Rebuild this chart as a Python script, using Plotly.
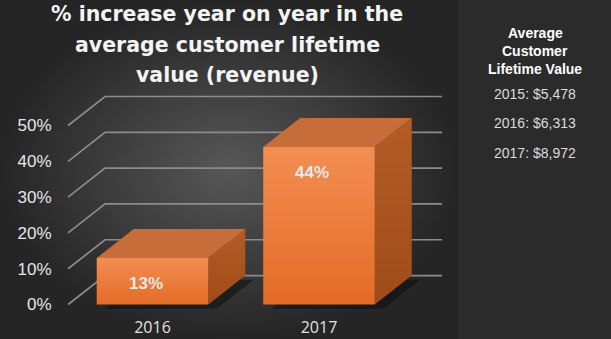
import plotly.graph_objects as go

# ---- data ----
years = ["2016", "2017"]
pct_increase = [13, 44]
y_ticks = [0, 10, 20, 30, 40, 50]
y_tick_labels = ["0%", "10%", "20%", "30%", "40%", "50%"]
clv_years = ["2015", "2016", "2017"]
clv_values = ["$5,478", "$6,313", "$8,972"]

title_lines = ["% increase year on year in the",
               "average customer lifetime",
               "value (revenue)"]
side_title = ["Average", "Customer", "Lifetime Value"]

# ---- page geometry ----
W, H = 611, 339
PANEL_X = 458            # start of the dark side panel (px)

# plotting frame for the 3-D style chart
X_RANGE = [-0.6, 1.8]
Y_RANGE = [-3.2, 60]
X_DOM = [52.6 / W, 452.2 / W]
Y_DOM = [(H - 316) / H, (H - 89.7) / H]

# oblique depth offset (data units) and bar half width
DX, DY = 0.222, 8.1
HALF = 0.335
GRID_X_FRONT, GRID_X_BACK_R = -0.507, 1.739

BG_CENTER, BG_EDGE = "#575757", "#252525"
PANEL_BG = "#2b2b2b"
GRID = "#8c8c8c"
FRONT_TOP, FRONT_BOT = "#f38e52", "#e46b27"
TOP_FACE = "#c66d3a"
SIDE_TOP, SIDE_BOT = "#b45c25", "#9f4c1a"

fig = go.Figure()

# radial-gradient backdrop behind the chart area
fig.add_trace(go.Scatter(
    x=[0, 1, 1, 0, 0], y=[0, 0, 1, 1, 0], mode="lines",
    line=dict(width=0), fill="toself",
    fillgradient=dict(type="radial", colorscale=[[0, BG_CENTER], [1, BG_EDGE]]),
    hoverinfo="skip", showlegend=False, xaxis="x", yaxis="y"))

# gridlines: diagonal on the side wall, horizontal on the back wall
for t in y_ticks:
    fig.add_trace(go.Scatter(
        x=[GRID_X_FRONT, GRID_X_FRONT + DX, GRID_X_BACK_R],
        y=[t, t + DY, t + DY], mode="lines",
        line=dict(color=GRID, width=1.7),
        hoverinfo="skip", showlegend=False, xaxis="x2", yaxis="y2"))

def poly(xs, ys, **kw):
    fig.add_trace(go.Scatter(
        x=xs + xs[:1], y=ys + ys[:1], mode="lines", line=dict(width=0),
        fill="toself", hoverinfo="skip", showlegend=False,
        xaxis="x2", yaxis="y2", **kw))

for i, v in enumerate(pct_increase):
    x0, x1 = i - HALF, i + HALF
    # floor shadow
    s = 0.05
    poly([x0 + s, x1 + s, x1 + DX + s, x0 + DX + s],
         [-1.2, -1.2, DY - 1.2, DY - 1.2], fillcolor="rgba(15,15,15,0.55)")
    # side face
    poly([x1, x1 + DX, x1 + DX, x1], [0, DY, v + DY, v],
         fillgradient=dict(type="vertical",
                           colorscale=[[0, SIDE_BOT], [1, SIDE_TOP]]))
    # top face
    poly([x0, x1, x1 + DX, x0 + DX], [v, v, v + DY, v + DY],
         fillcolor=TOP_FACE)
    # front face
    poly([x0, x1, x1, x0], [0, 0, v, v],
         fillgradient=dict(type="vertical",
                           colorscale=[[0, FRONT_BOT], [1, FRONT_TOP]]))
    # value label, inside the top end of the bar
    fig.add_annotation(x=i - 0.04, y=v - 7, xref="x2", yref="y2",
                       text=f"{v}%", showarrow=False,
                       font=dict(family="Liberation Sans", size=17,
                                 color="#e9e9e9", weight="bold"))

# chart title
for k, line in enumerate(title_lines):
    fig.add_annotation(x=227 / W, y=1 - (14.5 + 30.5 * k) / H,
                       xref="paper", yref="paper", text=line,
                       showarrow=False, xanchor="center", yanchor="middle",
                       font=dict(family="DejaVu Sans", size=20.5,
                                 color="#f4f4f4", weight="bold"))

# side panel
fig.add_shape(type="rect", xref="paper", yref="paper",
              x0=PANEL_X / W, x1=1, y0=0, y1=1,
              fillcolor=PANEL_BG, line=dict(width=0), layer="below")
for k, line in enumerate(side_title):
    fig.add_annotation(x=535 / W, y=1 - (33 + 18 * k) / H,
                       xref="paper", yref="paper", text=line,
                       showarrow=False, xanchor="center", yanchor="middle",
                       font=dict(family="Liberation Sans", size=14,
                                 color="#ffffff", weight="bold"))
for k, (yr, val) in enumerate(zip(clv_years, clv_values)):
    fig.add_annotation(x=535 / W, y=1 - (94 + 29.5 * k) / H,
                       xref="paper", yref="paper", text=f"{yr}: {val}",
                       showarrow=False, xanchor="center", yanchor="middle",
                       font=dict(family="Liberation Sans", size=14,
                                 color="#dcdcdc"))

hidden = dict(showgrid=False, zeroline=False, showticklabels=False,
              showline=False, ticks="", fixedrange=True)

fig.update_layout(
    width=W, height=H, margin=dict(l=0, r=0, t=0, b=0),
    paper_bgcolor=PANEL_BG, plot_bgcolor="rgba(0,0,0,0)",
    showlegend=False,
    xaxis=dict(domain=[0, PANEL_X / W], range=[0, 1], **hidden),
    yaxis=dict(domain=[0, 1], range=[0, 1], **hidden),
    xaxis2=dict(domain=X_DOM, range=X_RANGE, anchor="y2",
                showgrid=False, zeroline=False, showline=False, ticks="",
                tickvals=list(range(len(years))), ticktext=years,
                tickfont=dict(family="Open Sans", size=16, color="#e2e2e2"),
                fixedrange=True),
    yaxis2=dict(domain=Y_DOM, range=Y_RANGE, anchor="x2",
                showgrid=False, zeroline=False, showline=False, ticks="",
                tickvals=y_ticks, ticktext=y_tick_labels,
                tickfont=dict(family="Liberation Sans", size=17, color="#e6e6e6"),
                fixedrange=True),
)

fig.write_html("out.html")
